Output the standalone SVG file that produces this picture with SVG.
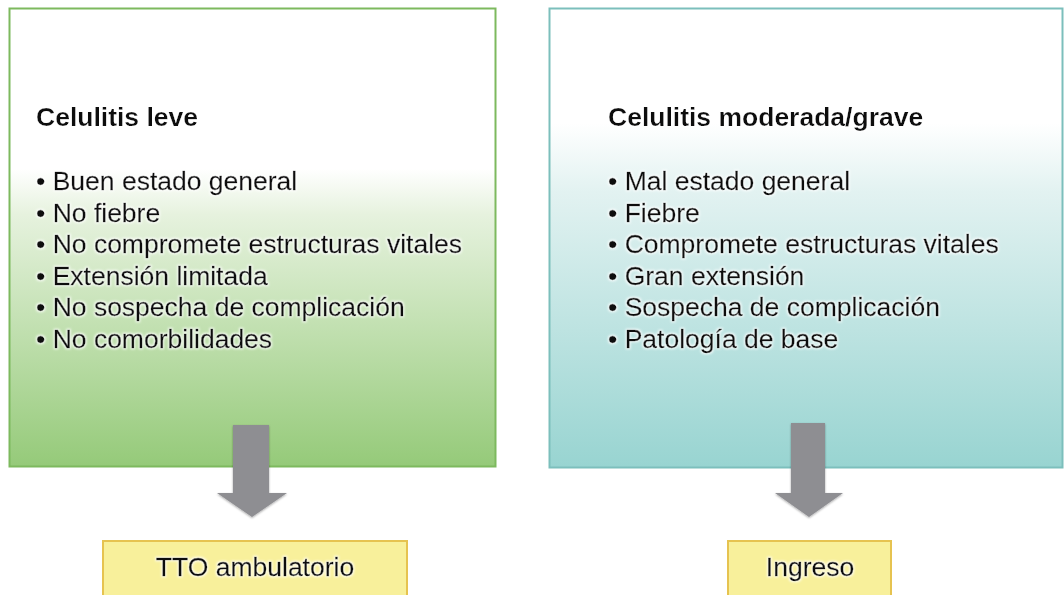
<svg xmlns="http://www.w3.org/2000/svg" width="1064" height="595" viewBox="0 0 1064 595">
<defs>
<linearGradient id="gGreen" x1="0" y1="0" x2="0" y2="1">
<stop offset="0" stop-color="#ffffff"/>
<stop offset="0.35" stop-color="#ffffff"/>
<stop offset="0.45" stop-color="#e6f2de"/>
<stop offset="1" stop-color="#95ca79"/>
</linearGradient>
<linearGradient id="gTeal" x1="0" y1="0" x2="0" y2="1">
<stop offset="0" stop-color="#ffffff"/>
<stop offset="0.25" stop-color="#ffffff"/>
<stop offset="0.4" stop-color="#e2f2f1"/>
<stop offset="1" stop-color="#98d4d1"/>
</linearGradient>
<filter id="sh" x="-20%" y="-20%" width="140%" height="140%">
<feDropShadow dx="0" dy="1" stdDeviation="1" flood-color="#000" flood-opacity="0.35"/>
</filter>
<filter id="glow" x="-5%" y="-20%" width="110%" height="140%">
<feMorphology in="SourceAlpha" operator="dilate" radius="1" result="d"/>
<feGaussianBlur in="d" stdDeviation="1" result="b"/>
<feFlood flood-color="#ffffff" flood-opacity="0.8"/>
<feComposite in2="b" operator="in" result="w"/>
<feMerge><feMergeNode in="w"/><feMergeNode in="SourceGraphic"/></feMerge>
</filter>
</defs>
<style>
text{font-family:"Liberation Sans",Arial,sans-serif;fill:#111;}
.t{font-size:26.5px;font-weight:bold;}
.b{font-size:26.5px;stroke:#111;stroke-width:0.3;}
.c{font-size:26.5px;text-anchor:middle;stroke:#111;stroke-width:0.3;}
.arrow{fill:#8e8e92;filter:url(#sh);}
.res{fill:#f8f09b;stroke:#e6c350;stroke-width:2;}
</style>
<g id="leve">
<rect x="9.5" y="8.5" width="486" height="458" fill="url(#gGreen)" stroke="#7db95e" stroke-width="2"/>
<g filter="url(#glow)">
<text class="t" x="36" y="126">Celulitis leve</text>
<text class="b" x="36" y="190">• Buen estado general</text>
<text class="b" x="36" y="221.5">• No fiebre</text>
<text class="b" x="36" y="253">• No compromete estructuras vitales</text>
<text class="b" x="36" y="284.5">• Extensión limitada</text>
<text class="b" x="36" y="316">• No sospecha de complicación</text>
<text class="b" x="36" y="347.5">• No comorbilidades</text>
</g>
</g>
<g id="grave">
<rect x="549.5" y="8.5" width="513" height="459" fill="url(#gTeal)" stroke="#7cbfbc" stroke-width="2"/>
<g filter="url(#glow)">
<text class="t" x="608" y="126">Celulitis moderada/grave</text>
<text class="b" x="608" y="190">• Mal estado general</text>
<text class="b" x="608" y="221.5">• Fiebre</text>
<text class="b" x="608" y="253">• Compromete estructuras vitales</text>
<text class="b" x="608" y="284.5">• Gran extensión</text>
<text class="b" x="608" y="316">• Sospecha de complicación</text>
<text class="b" x="608" y="347.5">• Patología de base</text>
</g>
</g>
<g id="connectors">
<polygon class="arrow" points="233,425 269,425 269,493 287,493 252,517 217,493 233,493"/>
<polygon class="arrow" points="791,423 825,423 825,493 843,493 809,517 775,493 791,493"/>
</g>
<g id="ambulatorio">
<rect class="res" x="103" y="541" width="304" height="60"/>
<text class="c" x="255" y="576" filter="url(#glow)">TTO ambulatorio</text>
</g>
<g id="ingreso">
<rect class="res" x="728" y="541" width="163" height="60"/>
<text class="c" x="810" y="576" filter="url(#glow)">Ingreso</text>
</g>
</svg>
